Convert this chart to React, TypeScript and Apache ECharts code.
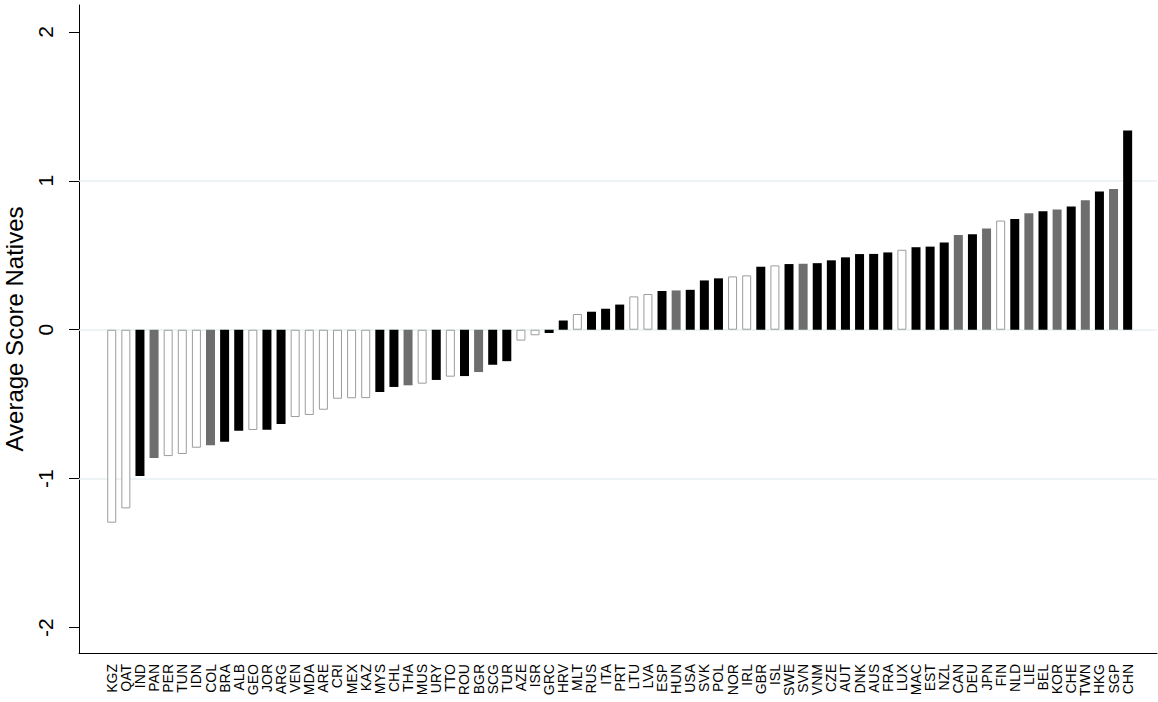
import React, { useEffect, useRef } from "react";
import * as echarts from "echarts";

// Country codes, ordered by average score
const categories = [
  "KGZ", "QAT", "IND", "PAN", "PER", "TUN", "IDN", "COL", "BRA", "ALB",
  "GEO", "JOR", "ARG", "VEN", "MDA", "ARE", "CRI", "MEX", "KAZ", "MYS",
  "CHL", "THA", "MUS", "URY", "TTO", "ROU", "BGR", "SCG", "TUR", "AZE",
  "ISR", "GRC", "HRV", "MLT", "RUS", "ITA", "PRT", "LTU", "LVA", "ESP",
  "HUN", "USA", "SVK", "POL", "NOR", "IRL", "GBR", "ISL", "SWE", "SVN",
  "VNM", "CZE", "AUT", "DNK", "AUS", "FRA", "LUX", "MAC", "EST", "NZL",
  "CAN", "DEU", "JPN", "FIN", "NLD", "LIE", "BEL", "KOR", "CHE", "TWN",
  "HKG", "SGP", "CHN",
];

// Average score of natives per country
const scores = [
  -1.295, -1.199, -0.982, -0.861, -0.848, -0.834, -0.792, -0.776, -0.752, -0.678,
  -0.673, -0.671, -0.633, -0.586, -0.572, -0.537, -0.463, -0.46, -0.459, -0.418,
  -0.384, -0.373, -0.362, -0.337, -0.315, -0.311, -0.284, -0.235, -0.211, -0.073,
  -0.037, -0.022, 0.062, 0.106, 0.121, 0.141, 0.169, 0.224, 0.24, 0.26,
  0.264, 0.268, 0.331, 0.345, 0.358, 0.365, 0.423, 0.432, 0.441, 0.443,
  0.447, 0.466, 0.486, 0.508, 0.509, 0.519, 0.537, 0.554, 0.558, 0.585,
  0.636, 0.641, 0.679, 0.733, 0.744, 0.782, 0.795, 0.807, 0.827, 0.869,
  0.928, 0.945, 1.337,
];

// Country group: B = black, G = grey, W = hollow
const groups = [
  "W", "W", "B", "G", "W", "W", "W", "G", "B", "B",
  "W", "B", "B", "W", "W", "W", "W", "W", "W", "B",
  "B", "G", "W", "B", "W", "B", "G", "B", "B", "W",
  "W", "B", "B", "W", "B", "B", "B", "W", "W", "B",
  "G", "B", "B", "B", "W", "W", "B", "W", "B", "G",
  "B", "B", "B", "B", "B", "B", "W", "B", "B", "B",
  "G", "B", "G", "W", "B", "G", "B", "G", "B", "G",
  "B", "G", "B",
];

const yTicks = [-2, -1, 0, 1, 2];
const gridValues = [-1, 0, 1];

const groupStyles: Record<string, any> = {
  B: { color: "#000000", borderColor: "#000000", borderWidth: 0 },
  G: { color: "#6e6e6e", borderColor: "#6e6e6e", borderWidth: 0 },
  W: { color: "#ffffff", borderColor: "#9c9c9c", borderWidth: 1 },
};

const FONT = "'Liberation Sans', Arial, Helvetica, sans-serif";

export default function App() {
  const ref = useRef<HTMLDivElement>(null);

  useEffect(() => {
    document.body.style.margin = "0";
    if (!ref.current) return;
    const chart = echarts.init(ref.current, null, { renderer: "svg" });
    const idx = categories.map((_, i) => i);

    chart.setOption({
      animation: false,
      backgroundColor: "#ffffff",
      grid: {
        left: 79,
        right: 1,
        top: 5,
        bottom: 49,
        containLabel: false,
        outerBoundsMode: "none",
      },
      xAxis: {
        type: "value",
        min: -2.32,
        max: 74.08,
        axisLine: { show: true, onZero: false, lineStyle: { color: "#000", width: 1 } },
        axisTick: { show: false },
        splitLine: { show: false },
        axisLabel: {
          customValues: idx,
          formatter: (v: number) => categories[Math.round(v)] ?? "",
          rotate: 90,
          fontSize: 14,
          fontFamily: FONT,
          color: "#000",
          margin: 11,
        },
      },
      yAxis: {
        type: "value",
        min: -2.17,
        max: 2.18,
        name: "Average Score Natives",
        nameLocation: "middle",
        nameRotate: 90,
        nameGap: 53,
        nameTextStyle: { fontSize: 24, fontFamily: FONT, color: "#000" },
        axisLine: { show: true, onZero: false, lineStyle: { color: "#000", width: 1 } },
        axisTick: {
          show: true,
          customValues: yTicks,
          length: 10,
          lineStyle: { color: "#000", width: 1 },
        },
        axisLabel: {
          customValues: yTicks,
          rotate: 90,
          fontSize: 21,
          fontFamily: FONT,
          color: "#000",
          margin: 23,
        },
        splitLine: { show: false },
      },
      series: [
        {
          type: "line",
          data: [],
          z: 1,
          silent: true,
          markLine: {
            silent: true,
            z: 1,
            symbol: "none",
            label: { show: false },
            lineStyle: { color: "#e8f0f2", width: 1.5, type: "solid" },
            data: gridValues.map((v) => ({ yAxis: v })),
          },
        },
        {
          type: "bar",
          z: 3,
          barWidth: 9,
          data: scores.map((v, i) => ({
            value: [i, v],
            itemStyle: groupStyles[groups[i]],
          })),
        },
      ],
    });

    return () => chart.dispose();
  }, []);

  return (
    <div
      ref={ref}
      style={{ position: "absolute", left: 0, top: 0, width: 1158, height: 702 }}
    />
  );
}
